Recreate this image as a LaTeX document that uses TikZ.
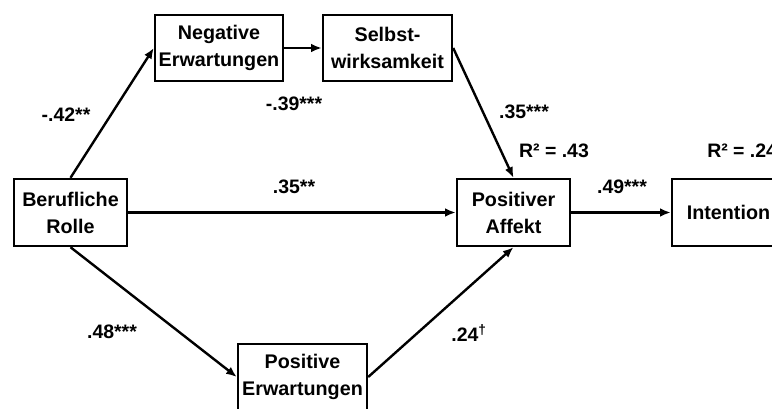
\documentclass[tikz,border=0pt]{standalone}
\usepackage{fontspec}
\setmainfont{Liberation Sans}
\usetikzlibrary{arrows.meta}
\begin{document}
\begin{tikzpicture}[x=0.75pt,y=-0.75pt,
  box/.style={draw=black,line width=1.8pt,align=center,inner sep=0pt,
    font=\fontsize{14.8}{20.25}\selectfont\bfseries},
  lbl/.style={inner sep=0pt,font=\fontsize{14.6}{17}\selectfont\bfseries},
  arr/.style={line width=1.8pt,-{Latex[length=8pt,width=6.5pt]}}]
\useasboundingbox (0,0) rectangle (772,408);
\clip (0,0) rectangle (772,408);
\node[box,minimum width=96pt,minimum height=49.5pt] (neg) at (219,48) {Negative\\Erwartungen};
\node[box,minimum width=96.75pt,minimum height=49.5pt] (sel) at (387.5,48) {Selbst-\\wirksamkeit};
\node[box,minimum width=84.75pt,minimum height=50.25pt] (ber) at (70.5,212.5) {Berufliche\\Rolle};
\node[box,minimum width=84.75pt,minimum height=50.25pt] (aff) at (513.5,212.5) {Positiver\\Affekt};
\node[box,minimum width=84.75pt,minimum height=50.25pt] (int) at (728.5,212.5) {Intention};
\node[box,minimum width=96.75pt,minimum height=49.5pt] (pos) at (302.5,377) {Positive\\Erwartungen};
\draw[arr] (ber.north) -- (neg.west);
\draw[arr] (neg.east) -- (sel.west);
\draw[arr] (sel.east) -- (aff.north);
\draw[arr] (ber.east) -- (aff.west);
\draw[arr] (ber.south) -- (pos.west);
\draw[arr] (pos.east) -- (aff.south);
\draw[arr] (aff.east) -- (int.west);
\node[lbl] (l1) at (66,115) {-.42**};
\node[lbl] (l2) at (294,104) {-.39***};
\node[lbl] (l3) at (294,187) {.35**};
\node[lbl] (l4) at (524,112) {.35***};
\node[lbl] (r1) at (554,151) {R² = .43};
\node[lbl,anchor=west] (r2) at (707,151) {R² = .24};
\node[lbl] (l5) at (622,187) {.49***};
\node[lbl] (l6) at (112,332) {.48***};
\node[lbl] (l7) at (469,333) {.24\textsuperscript{†}};
\end{tikzpicture}
\end{document}
